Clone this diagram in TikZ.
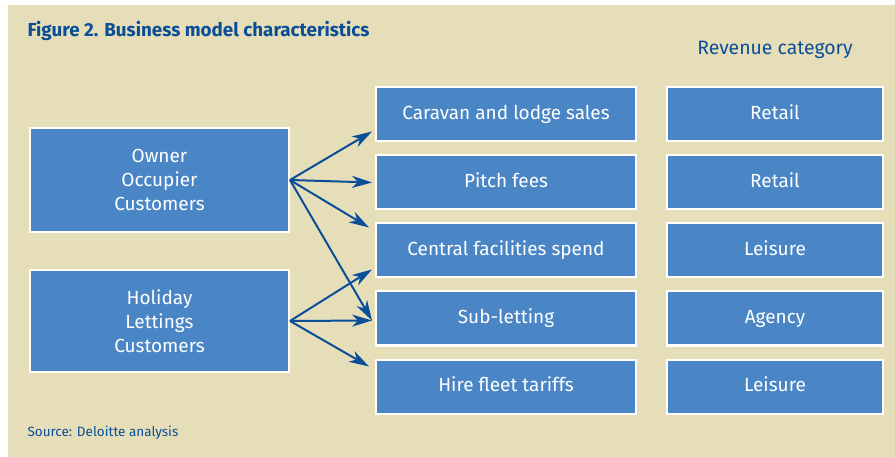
\documentclass[tikz,border=0pt]{standalone}
\usepackage{fontspec}
\setmainfont{Fira Sans}
\usetikzlibrary{positioning,arrows.meta}
\definecolor{panelbeige}{RGB}{230,222,185}
\definecolor{boxblue}{RGB}{74,134,198}
\definecolor{inkblue}{RGB}{10,78,152}
\tikzset{>={Stealth[length=20pt,width=12pt,inset=6pt]}}
\tikzset{
  bizbox/.style={draw=white, line width=2pt, fill=boxblue, text=white,
    font=\fontsize{19}{24}\selectfont, align=center},
  rowbox/.style={bizbox, text height=14pt, text depth=4.5pt, minimum height=54pt},
  flow/.style={->, draw=inkblue, line width=2pt}
}

\begin{document}
\begin{tikzpicture}[x=1pt,y=-1pt]
            \useasboundingbox (0,0) rectangle (895,457);
            \fill[panelbeige] (8,5) rectangle (895,457);

            \node [anchor=west, text=inkblue,
              font=\fontsize{18.8}{22}\selectfont\bfseries
            ] (title) at (24,31) {Figure 2. Business model characteristics};

            \node [text=inkblue,
              font=\fontsize{19.4}{22}\selectfont
            ] (revhead) at (775,50) {Revenue category};

            \node [anchor=west, text=inkblue,
              font=\fontsize{13.5}{16}\selectfont
            ] (source) at (24,433) {Source: Deloitte analysis};

            % customer groups
            \node [bizbox,
              minimum width=259pt, minimum height=104pt
            ] (owner) at (159.5,180) {Owner\\Occupier\\Customers};

            \node [bizbox,
              minimum width=259pt, minimum height=102pt
            ] (holiday) at (159.5,321) {Holiday\\Lettings\\Customers};

            % revenue streams
            \node [rowbox,
              minimum width=260pt
            ] (caravan) at (506,114.5) {Caravan and lodge sales};

            \node [rowbox,
              minimum width=260pt,
              below=12pt of caravan
            ] (pitch) {Pitch fees};

            \node [rowbox,
              minimum width=260pt,
              below=12pt of pitch
            ] (central) {Central facilities spend};

            \node [rowbox,
              minimum width=260pt,
              below=12pt of central
            ] (subletting) {Sub-letting};

            \node [rowbox,
              minimum width=260pt,
              below=12pt of subletting
            ] (hire) {Hire fleet tariffs};

            % revenue categories
            \node [rowbox,
              minimum width=216pt,
              right=29pt of caravan
            ] (retailA) {Retail};

            \node [rowbox,
              minimum width=216pt,
              right=29pt of pitch
            ] (retailB) {Retail};

            \node [rowbox,
              minimum width=216pt,
              right=29pt of central
            ] (leisureA) {Leisure};

            \node [rowbox,
              minimum width=216pt,
              right=29pt of subletting
            ] (agency) {Agency};

            \node [rowbox,
              minimum width=216pt,
              right=29pt of hire
            ] (leisureB) {Leisure};

            \draw[flow] (owner.east) -- ([xshift=-3pt,yshift=11pt]caravan.south west);
            \draw[flow] (owner.east) -- ([xshift=-3pt]pitch.west);
            \draw[flow] (owner.east) -- ([xshift=-6pt,yshift=-5pt]central.north west);
            \draw[flow] (owner.east) -- ([xshift=-3pt,yshift=-2pt]subletting.west);

            \draw[flow] (holiday.east) -- ([xshift=-3pt,yshift=9pt]central.south west);
            \draw[flow] (holiday.east) -- ([xshift=-3pt,yshift=-2pt]subletting.west);
            \draw[flow] (holiday.east) -- ([xshift=-6pt,yshift=-8pt]hire.north west);
          \end{tikzpicture}
\end{document}
